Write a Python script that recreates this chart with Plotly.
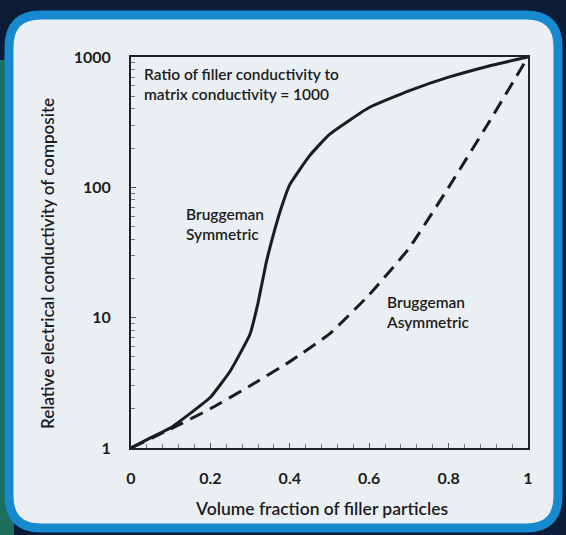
import plotly.graph_objects as go

# ---- data ----
sym_x = [0, 0.05, 0.1, 0.15, 0.2, 0.25, 0.3, 0.32, 0.34, 0.36, 0.38, 0.4, 0.45, 0.5, 0.6, 0.7, 0.8, 0.9, 1.0]
sym_y = [1, 1.2, 1.43, 1.85, 2.45, 3.9, 7.5, 13, 26, 45, 72, 105, 175, 255, 410, 550, 700, 850, 1000]

asym_x = [0, 0.1, 0.2, 0.3, 0.4, 0.5, 0.6, 0.7, 0.8, 0.9, 1.0]
asym_y = [1, 1.4, 2.0, 3.0, 4.6, 7.5, 15, 34, 100, 310, 1000]

x_ticks = [0, 0.2, 0.4, 0.6, 0.8, 1]
x_ticktext = ["0", "0.2", "0.4", "0.6", "0.8", "1"]
y_ticks = [1, 10, 100, 1000]
y_ticktext = ["1", "10", "100", "1000"]

x_title = "Volume fraction of filler particles"
y_title = "Relative electrical conductivity of composite"
note_text = "Ratio of filler conductivity to<br>matrix conductivity = 1000"
sym_label = "Bruggeman<br>Symmetric"
asym_label = "Bruggeman<br>Asymmetric"

# ---- layout geometry (pixels) ----
W, H = 566, 535
L, R, T, B = 131, 38, 57, 87
PW, PH = W - L - R, H - T - B


def px(x):
    return (x - L) / PW


def py(y):
    return (H - B - y) / PH


def rounded_rect(x0, y0, x1, y1, r):
    rx, ry = r / PW, r / PH
    X0, X1 = px(x0), px(x1)
    Y0, Y1 = py(y0), py(y1)  # Y0 top (larger), Y1 bottom
    return (f"M {X0+rx},{Y0} L {X1-rx},{Y0} Q {X1},{Y0} {X1},{Y0-ry} "
            f"L {X1},{Y1+ry} Q {X1},{Y1} {X1-rx},{Y1} "
            f"L {X0+rx},{Y1} Q {X0},{Y1} {X0},{Y1+ry} "
            f"L {X0},{Y0-ry} Q {X0},{Y0} {X0+rx},{Y0} Z")


FONT = "Lato"
DARK = "#1c1c1c"

fig = go.Figure()
fig.add_trace(go.Scatter(x=sym_x, y=sym_y, mode="lines",
                         line=dict(color=DARK, width=3, shape="spline", smoothing=0.4),
                         showlegend=False, hoverinfo="skip"))
fig.add_trace(go.Scatter(x=asym_x, y=asym_y, mode="lines",
                         line=dict(color=DARK, width=3, dash="14px,8px", shape="spline", smoothing=0.4),
                         showlegend=False, hoverinfo="skip"))

shapes = [
    # green tint on the left edge of the backdrop
    dict(type="rect", xref="paper", yref="paper", x0=px(0), x1=px(14), y0=py(535), y1=py(60),
         fillcolor="#1d6e5a", line=dict(width=0), layer="below"),
    # rounded light panel with blue frame
    dict(type="path", xref="paper", yref="paper",
         path=rounded_rect(9, 15, 558, 528, 32),
         fillcolor="#eaeff4", line=dict(color="#1689cf", width=9), layer="below"),
]

ann_font = dict(family=FONT, size=15.5, color=DARK, weight=600)
annotations = [
    dict(text=note_text, x=px(142), y=py(63), xref="paper", yref="paper",
         xanchor="left", yanchor="top", align="left", showarrow=False, font=ann_font),
    dict(text=sym_label, x=px(184), y=py(203), xref="paper", yref="paper",
         xanchor="left", yanchor="top", align="left", showarrow=False, font=ann_font),
    dict(text=asym_label, x=px(384), y=py(291), xref="paper", yref="paper",
         xanchor="left", yanchor="top", align="left", showarrow=False, font=ann_font),
    # axis titles
    dict(text=x_title, x=px(321), y=py(508), xref="paper", yref="paper",
         xanchor="center", yanchor="middle", showarrow=False,
         font=dict(family=FONT, size=17.5, color=DARK, weight=600)),
    dict(text=y_title, x=px(47), y=py(264), xref="paper", yref="paper",
         xanchor="center", yanchor="middle", showarrow=False, textangle=-90,
         font=dict(family=FONT, size=17, color=DARK, weight=600)),
]

fig.update_layout(
    width=W, height=H,
    margin=dict(l=L, r=R, t=T, b=B, pad=0),
    paper_bgcolor="#0c1b36",
    plot_bgcolor="rgba(0,0,0,0)",
    shapes=shapes,
    annotations=annotations,
    font=dict(family=FONT, color=DARK),
    xaxis=dict(
        range=[0, 1], tickvals=x_ticks, ticktext=x_ticktext,
        ticks="inside", ticklen=5, tickwidth=1, tickcolor="#555",
        minor=dict(ticks="inside", ticklen=4, dtick=0.04, tickcolor="#777", showgrid=False),
        showgrid=False, zeroline=False,
        showline=True, linecolor="#222", linewidth=2, mirror=True,
        tickfont=dict(family=FONT, size=16, color=DARK, weight="bold"),
        ticklabelstandoff=15,
    ),
    yaxis=dict(
        type="log", range=[0, 3], tickvals=y_ticks, ticktext=y_ticktext,
        ticks="inside", ticklen=5, tickwidth=1, tickcolor="#555",
        minor=dict(ticks="inside", ticklen=4, dtick="D1", tickcolor="#777", showgrid=False),
        showgrid=False, zeroline=False,
        showline=True, linecolor="#222", linewidth=2, mirror=True,
        tickfont=dict(family=FONT, size=16, color=DARK, weight="bold"),
        ticklabelstandoff=15,
    ),
)

fig.write_html("out.html")
